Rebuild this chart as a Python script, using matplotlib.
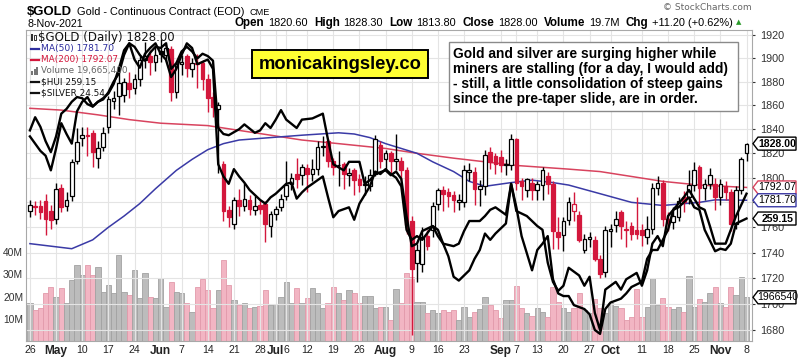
import numpy as np
import pandas as pd
import matplotlib
matplotlib.use("Agg")
import matplotlib.pyplot as plt
from matplotlib.patches import Rectangle, Polygon
from matplotlib.lines import Line2D
from matplotlib.ticker import NullLocator, NullFormatter, FixedLocator, FixedFormatter

# ---------------- data ----------------
holidays = ["2021-05-31", "2021-07-05", "2021-09-06"]
prev_close = 1777.8

opens = [1773,1777,1777,1781,1773,1767,1792,1777,1785,1814,
         1833,1835,1837,1816,1825,1842,1864,1868,1869,1879,
         1875,1882,1899,1902,1897,1906,1903,1908,1871,1895,
         1902,1891,1895,1896,1882,1867,1857,1811,1774,1763,
         1782,1777,1782,1774,1778,1779,1761,1771,1776,1785,
         1795,1803,1802,1808,1803,1807,1825,1830,1814,1810,
         1811,1802,1806,1799,1794,1793,1803,1827,1815,1820,
         1814,1814,1806,1765,1732,1731,1753,1758,1779,1790,
         1788,1786,1780,1780,1805,1805,1791,1793,1821,1818,
         1817,1810,1810,1832,1797,1790,1796,1790,1794,1801,
         1795,1756,1754,1766,1773,1770,1742,1751,1750,1735,
         1725,1757,1762,1772,1759,1761,1758,1758,1752,1759,
         1792,1796,1767,1764,1768,1784,1784,1794,1809,1792,
         1795,1795,1784,1793,1788,1763,1790,1820.6]
highs = [1782,1781,1782,1787,1778,1796,1795,1788,1815,1841,
         1842,1842,1839,1830,1842,1868,1872,1890,1883,1888,
         1887,1902,1914,1907,1910,1917,1914,1911,1897,1903,
         1904,1900,1904,1899,1887,1871,1863,1814,1777,1784,
         1791,1796,1786,1785,1782,1781,1773,1777,1787,1814,
         1804,1816,1811,1811,1815,1830,1834,1832,1816,1822,
         1813,1808,1808,1803,1801,1807,1835,1830,1823,1822,
         1836,1817,1809,1769,1747,1760,1758,1780,1792,1793,
         1792,1789,1787,1810,1812,1809,1798,1823,1825,1820,
         1823,1815,1836,1833,1800,1800,1800,1797,1809,1805,
         1797,1768,1768,1784,1788,1773,1755,1756,1753,1738,
         1761,1763,1773,1774,1765,1764,1784,1763,1769,1796,
         1801,1798,1772,1776,1784,1789,1806,1813,1810,1799,
         1808,1800,1799,1797,1791,1793,1817,1828.3]
lows = [1768,1770,1767,1754,1759,1763,1772,1773,1781,1811,
        1826,1818,1809,1808,1822,1837,1857,1852,1863,1866,
        1870,1876,1892,1886,1889,1897,1898,1864,1866,1886,
        1884,1884,1875,1873,1854,1850,1804,1765,1760,1759,
        1769,1773,1770,1770,1771,1748,1752,1766,1773,1782,
        1790,1792,1794,1788,1797,1802,1818,1809,1802,1793,
        1791,1793,1786,1788,1786,1789,1801,1808,1806,1804,
        1806,1797,1755,1676,1717,1725,1742,1752,1774,1773,
        1776,1772,1774,1776,1797,1778,1777,1786,1807,1803,
        1805,1802,1806,1790,1782,1784,1782,1782,1782,1787,
        1743,1743,1741,1762,1765,1748,1740,1744,1733,1720,
        1721,1744,1756,1751,1744,1750,1751,1745,1747,1755,
        1786,1761,1757,1759,1765,1772,1779,1789,1778,1782,
        1791,1774,1778,1782,1757,1759,1787,1813.8]
closes = [1778,1776,1772,1767,1766,1791,1776,1782,1813,1829,
          1835,1834,1821,1824,1837,1865,1866,1879,1880,1874,
          1882,1899,1902,1897,1903,1904,1909,1871,1895,1897,
          1892,1896,1895,1882,1866,1859,1860,1773,1768,1782,
          1777,1783,1775,1777,1775,1763,1771,1775,1783,1794,
          1800,1799,1809,1803,1807,1825,1826,1814,1809,1810,
          1803,1804,1798,1794,1795,1802,1832,1814,1820,1814,
          1815,1806,1762,1727,1742,1752,1745,1777,1790,1787,
          1785,1782,1782,1806,1806,1791,1793,1819,1813,1811,
          1810,1811,1832,1796,1793,1799,1790,1795,1806,1795,
          1757,1752,1765,1780,1779,1750,1751,1752,1735,1723,
          1758,1759,1767,1761,1758,1755,1754.5,1754,1759,1792,
          1796,1767,1764,1769,1781,1780,1794,1806,1792,1795,
          1802,1784,1795,1788,1763,1790,1815,1828.0]
volume_m = [17.0,14.0,14.7,21.5,24.5,20.0,23.7,17.0,27.5,34.2,29.7,34.2,29.7,33.2,22.2,25.2,21.5,38.8,22.2,20.7,
            32.0,19.2,30.8,20.0,19.2,28.2,15.5,26.7,22.2,21.5,17.0,13.2,24.5,27.8,
            23.0,14.7,23.0,36.5,25.2,18.5,16.2,17.0,14.7,15.5,15.8,23.0,16.2,16.7,20.0,26.7,17.0,23.7,17.0,19.2,
            23.7,21.5,14.7,17.0,24.5,21.5,18.5,23.0,21.5,17.0,20.4,20.4,14.7,15.5,
            15.5,9.5,23.3,17.0,30.5,29.0,17.7,17.7,12.8,14.0,12.8,14.0,13.2,14.0,9.5,15.5,11.0,13.2,14.3,20.0,
            16.2,14.0,10.2,18.5,18.5,24.8,14.7,12.8,11.3,14.7,13.0,11.0,24.5,17.7,14.7,
            13.2,14.7,21.5,14.0,12.8,18.8,14.7,12.5,17.3,15.8,14.7,9.5,11.0,23.3,11.0,15.5,28.2,16.2,19.2,15.5,
            14.3,15.5,13.2,29.3,15.5,18.8,17.7,21.5,24.5,17.0,15.2,24.5,20.7,28.7,19.67]

ma50_day = [0,4,8,12,15,18,21,24,28,31,34,37,40,46,52,59,62,65,68,74,77,81,84,87,92,96,100,103,109,115,121,128,131,137]
ma50_val = [1747,1745,1743,1750,1760,1769,1779,1791,1806,1815,1823,1828,1831,1833,1835,1837,1836,1833,1828,1820,
            1813,1805,1797,1793,1796,1798,1796,1794,1787,1780,1777.5,1780,1782,1781.7]
ma200_day = [0,6,13,19,25,34,40,46,52,59,68,74,81,87,93,103,109,115,121,128,137]
ma200_val = [1857.5,1856,1852,1848,1845,1843,1839,1835,1831,1828,1824,1820,1816,1813,1810,1807,1805,1801,
             1797,1794,1792.07]

# $SILVER and $HUI overlays, expressed on the price scale as drawn
silver_day = [0,1,2,3,4,5,6,7,8,9,10,11,12,13,14,15,16,17,18,19,20,21,22,23,24,25,26,27,28,29,30,31,32,33,34,35,36,
              37,38,40,41,43,44,45,46,47,48,49,51,52,54,56,57,58,60,61,63,64,65,66,68,69,70,71,72,73,74,75,77,78,
              79,81,82,83,84,86,87,88,89,91,92,93,95,96,97,98,99,100,101,102,103,105,106,107,108,109,110,112,113,
              114,116,117,118,119,120,121,122,124,125,126,128,129,130,131,133,134,135,137]
silver_val = [1839,1850,1842,1830,1821,1834,1853,1857,1863,1867,1866,1861,1859,1863,1866,1870,1878,1891,1907,1913,
              1910,1903,1898,1905,1910,1909,1913,1891,1896,1906,1910,1906,1900,1904,1902,1898,1841,
              1836,1835,1840,1844,1837,1839,1845,1841,1848,1856,1848,1841,1848,1849,1853,1831,1811,1806,1813,1813,
              1795,1798,1803,1806,1802,1805,1799,1769,1745,1747,1757,1761,1753,
              1747,1745,1747,1757,1765,1765,1769,1774,1776,1770,1795,1773,1769,1765,1761,1758,1732,1717,1710,1714,
              1728,1722,1714,1721,1693,1680,1711,1717,1711,
              1719,1724,1714,1726,1747,1753,1745,1769,1779,1784,1790,1776,1774,1761,1747,1747,1758,1769,1787]
hui_day = [0,1,2,3,4,5,6,7,8,9,10,11,12,13,14,15,16,17,18,19,20,21,22,23,24,25,26,27,28,29,30,31,32,33,34,35,36,
           37,38,39,40,41,42,44,45,46,47,49,50,51,52,53,55,56,57,58,59,61,62,63,65,66,67,68,69,70,71,72,73,74,75,
           77,78,79,80,81,82,84,85,86,87,88,89,91,92,93,94,96,97,98,99,100,101,102,103,104,106,107,108,109,110,
           111,113,114,115,117,118,119,120,122,123,124,126,127,128,129,131,132,133,134,135,137]
hui_val = [1834,1828,1822,1818,1806,1824,1845,1836,1828,1855,1863,1867,1859,1863,1865,1871,1880,1887,1903,1913,
           1899,1892,1904,1909,1913,1904,1899,1884,1891,1903,1913,1909,1895,1897,1899,1891,1811,
           1801,1795,1807,1801,1796,1790,1782,1779,1784,1787,1795,1796,1783,1788,1792,1798,1801,1784,1768,1773,
           1776,1766,1779,1793,1805,1803,1807,1803,1800,1793,1758,1750,1753,1750,
           1761,1758,1747,1737,1721,1718,1726,1735,1742,1755,1750,1755,1763,1795,1776,1753,1726,1742,1747,1753,
           1719,1708,1706,1706,1699,1696,1692,1680,1677,1696,
           1701,1704,1708,1713,1717,1735,1742,1742,1758,1774,1776,1784,1776,1774,1758,1741,1743,1742,1747,1763,1767]

tick_dates = ["2021-04-26", "2021-05-03", "2021-05-10", "2021-05-17", "2021-05-24", "2021-06-01", "2021-06-07",
              "2021-06-14", "2021-06-21", "2021-06-28", "2021-07-01", "2021-07-06", "2021-07-12", "2021-07-19",
              "2021-07-26", "2021-08-02", "2021-08-09", "2021-08-16", "2021-08-23", "2021-09-01", "2021-09-07",
              "2021-09-13", "2021-09-20", "2021-09-27", "2021-10-01", "2021-10-11", "2021-10-18", "2021-10-25",
              "2021-11-01", "2021-11-08"]
tick_labels = ["26", "May", "10", "17", "24", "Jun", "7", "14", "21", "28", "Jul", "6", "12", "19", "26", "Aug",
               "9", "16", "23", "Sep", "7", "13", "20", "27", "Oct", "11", "18", "25", "Nov", "8"]
month_names = ["May", "Jun", "Jul", "Aug", "Sep", "Oct", "Nov"]

price_ticks = list(range(1680, 1921, 20))
vol_ticks = [10, 20, 30, 40]

# ---------------- figure ----------------
W, H = 803, 359
fig = plt.figure(figsize=(W / 100, H / 100), dpi=100)
fig.patch.set_facecolor("white")
SANS = ["Liberation Sans", "DejaVu Sans"]


def ptext(x, y, s, **kw):
    return fig.text(x / W, 1 - y / H, s, **kw)


renderer = fig.canvas.get_renderer()


def fit(t, width_px):
    w = t.get_window_extent(renderer).width
    t.set_fontsize(t.get_fontsize() * width_px / w)
    return t


L, T, R, B = 26, 30, 752, 341
rect = [L / W, 1 - B / H, (R - L) / W, (B - T) / H]
axv = fig.add_axes(rect)
ax = fig.add_axes(rect, sharex=axv)
ax.patch.set_alpha(0)

dates = pd.bdate_range("2021-04-26", "2021-11-08")
dates = dates[~dates.isin(pd.to_datetime(holidays))]
idx = np.arange(len(dates))
o = np.array(opens, float); h = np.array(highs, float)
lo = np.array(lows, float); c = np.array(closes, float)
prev = np.r_[prev_close, c[:-1]]
up = c >= prev
hollow = c > o
RED = "#d3173c"

ax.set_yscale("log")
ax.set_xlim(-0.75, 138.05)
ax.set_ylim(1671.6, 1924.6)
axv.set_ylim(0, 140)

# volume
vcol = np.where(up, "#bcbcbc", "#f2b5c3")
vedge = np.where(up, "#a2a2a2", "#e29aab")
axv.bar(idx, volume_m, width=1.0, color=vcol, edgecolor=vedge, linewidth=0.6, zorder=2)

# grid
tick_pos = [dates.get_loc(pd.Timestamp(d)) for d in tick_dates]
for p in price_ticks:
    ax.axhline(p, color="#e4e4e4", lw=0.8, zorder=0)
for xp in tick_pos:
    ax.axvline(xp, color="#e4e4e4", lw=0.8, zorder=0)

# moving averages
ax.plot(ma200_day, ma200_val, color="#d8435e", lw=1.1, zorder=2)
ax.plot(ma50_day, ma50_val, color="#3a3aa6", lw=1.1, zorder=2)

# candles
ccol = np.where(up, "black", RED)
face = np.where(hollow, "white", ccol)
ax.vlines(idx, lo, h, colors=ccol, lw=1.0, zorder=3)
body_b = np.minimum(o, c)
body_h = np.maximum(np.abs(c - o), 0.7)
ax.bar(idx, body_h, bottom=body_b, width=0.7, color=face, edgecolor=ccol, linewidth=0.9, zorder=4)

# overlays
ax.plot(silver_day, silver_val, color="black", lw=1.7, zorder=5, solid_joinstyle="round")
ax.plot(hui_day, hui_val, color="black", lw=1.7, zorder=5, solid_joinstyle="round")

# axes styling
ax.yaxis.tick_right()
ax.yaxis.set_major_locator(FixedLocator(price_ticks))
ax.yaxis.set_major_formatter(FixedFormatter([str(p) for p in price_ticks]))
ax.yaxis.set_minor_locator(NullLocator())
ax.yaxis.set_minor_formatter(NullFormatter())
ax.tick_params(axis="y", labelsize=7.8, colors="#333333", length=2, pad=4, labelfontfamily="Liberation Sans")
ax.set_xticks(tick_pos)
ax.set_xticklabels(tick_labels)
ax.tick_params(axis="x", length=0, pad=3, colors="#222222")
for lab in ax.get_xticklabels():
    lab.set_fontfamily("Liberation Sans")
    if lab.get_text() in month_names:
        lab.set_fontweight("bold"); lab.set_fontsize(8.6)
    else:
        lab.set_fontsize(7.6)
axv.set_yticks(vol_ticks)
axv.set_yticklabels([f"{v}M" for v in vol_ticks])
axv.tick_params(axis="y", labelsize=7.4, colors="#333333", length=0, pad=2, labelfontfamily="Liberation Sans")
axv.tick_params(axis="x", length=0, labelbottom=False)
for s in axv.spines.values():
    s.set_visible(False)
for s in ax.spines.values():
    s.set_color("#a8a8a8"); s.set_linewidth(0.8)

# right-side value tags (drawn over the price labels, as in the original)
def tag(trans, yval, text, ec, bold):
    yp = trans.transform((0, yval))[1]
    ypix = H - yp
    x0, x1, hh = 753, 796, 6.5
    pts = [(x0, ypix), (x0 + 5, ypix - hh), (x1, ypix - hh), (x1, ypix + hh), (x0 + 5, ypix + hh)]
    poly = Polygon([(px / W, 1 - py / H) for px, py in pts], closed=True, transform=fig.transFigure,
                   facecolor="white", edgecolor=ec, lw=1.0, zorder=6)
    fig.patches.append(poly)
    ptext((x0 + 5 + x1) / 2 + 0.5, ypix, text, ha="center", va="center", fontsize=7.6,
          fontweight="bold" if bold else "normal", color="black", family=SANS, zorder=7)

tag(ax.transData, c[-1], "1828.00", "black", True)
tag(ax.transData, ma200_val[-1], "1792.07", "#d8435e", False)
tag(ax.transData, ma50_val[-1], "1781.70", "#3a3aa6", False)
tag(ax.transData, hui_val[-1], "259.15", "black", True)
tag(axv.transData, volume_m[-1], "1966540", "black", False)

# legend rows
fit(ptext(38, 37, "$GOLD (Daily) 1828.00", fontsize=8, va="center", color="#111111", family="DejaVu Sans"), 137)
rows = [(48.5, "MA(50) 1781.70", "#2e2e9e"), (59.5, "MA(200) 1792.07", "#d3173c"),
        (71, "Volume 19,665,400", "#666666"), (82, "$HUI 259.15", "#111111"), (93, "$SILVER 24.54", "#111111")]
for yy, s, col in rows:
    t = ptext(41, yy, s, fontsize=6.4, va="center", color=col, family="DejaVu Sans")
    if s.startswith("MA(50)"):
        fit(t, 73)
    if not s.startswith("Volume"):
        fig.lines.append(Line2D([31 / W, 39 / W], [1 - yy / H] * 2, color=col, lw=1.6, transform=fig.transFigure))
for k, hgt in enumerate([4, 6, 8]):
    fig.patches.append(Rectangle(((31 + k * 2.6) / W, 1 - 75 / H), 2.0 / W, hgt / H, transform=fig.transFigure,
                                 facecolor="#777777", edgecolor="none"))
fig.patches.append(Rectangle((31 / W, 1 - 41 / H), 2 / W, 7 / H, transform=fig.transFigure,
                             facecolor="#333333", edgecolor="none"))
fig.patches.append(Rectangle((34.5 / W, 1 - 40 / H), 2 / W, 5 / H, transform=fig.transFigure,
                             facecolor="white", edgecolor="#333333", lw=0.7))

# header
fit(ptext(27, 12, "$GOLD", fontsize=11, fontweight="bold", va="center", family=SANS), 45)
fit(ptext(77, 12, "Gold - Continuous Contract (EOD)", fontsize=8, va="center", family=SANS), 168)
ptext(250, 12.5, "CME", fontsize=6.6, va="center", family=SANS)
fit(ptext(27, 24, "8-Nov-2021", fontsize=7, va="center", family=SANS), 55)
fit(ptext(663, 8, "\u00a9 StockCharts.com", fontsize=6.5, va="center", color="#666666", family="DejaVu Sans"), 89)

pieces = [("Open", "bold"), ("1820.60", "normal"), ("High", "bold"), ("1828.30", "normal"),
          ("Low", "bold"), ("1813.80", "normal"), ("Close", "bold"), ("1828.00", "normal"),
          ("Volume", "bold"), ("19.7M", "normal"), ("Chg", "bold"), ("+11.20 (+0.62%)", "normal")]
texts = []
for s, wgt in pieces:
    texts.append(ptext(0, 23, s, fontsize=8.3 if wgt == "bold" else 7.8, fontweight=wgt, va="center", family=SANS))
widths = [t.get_window_extent(renderer).width for t in texts]
gaps = [3.5 if i % 2 == 0 else 6 for i in range(len(pieces))]
total = sum(widths) + sum(gaps[:-1])
scale = (733 - 235) / total
x = 235.0
for t, w, g in zip(texts, widths, gaps):
    t.set_fontsize(t.get_fontsize() * scale)
    t.set_x(x / W)
    x += (w + g) * scale
ptext(736, 22.5, "\u25b2", fontsize=5, va="center", color="#2a9a2a", family="DejaVu Sans")

# watermark
fig.patches.append(Rectangle((252 / W, 1 - 78 / H), 176 / W, 28 / H, transform=fig.transFigure,
                             facecolor="#ffff33", edgecolor="black", lw=1.4, zorder=8))
fit(ptext(340, 64.5, "monicakingsley.co", fontsize=13, fontweight="bold", ha="center", va="center",
          family=SANS, zorder=9), 163)

# comment box
fig.patches.append(Rectangle((449 / W, 1 - 111 / H), 289 / W, 69 / H, transform=fig.transFigure,
                             facecolor="white", edgecolor="#8a8a8a", lw=1.0, zorder=8))
lines_txt = ["Gold and silver are surging higher while",
             "miners are stalling (for a day, I would add)",
             "- still, a little consolidation of steep gains",
             "since the pre-taper slide, are in order."]
tl = [ptext(453, 54 + 15 * k, s, fontsize=8.7, fontweight="bold", va="center", family=SANS, zorder=9)
      for k, s in enumerate(lines_txt)]
w2 = tl[1].get_window_extent(renderer).width
for t in tl:
    t.set_fontsize(t.get_fontsize() * 277 / w2)

fig.savefig("out.png", dpi=100, facecolor="white")
